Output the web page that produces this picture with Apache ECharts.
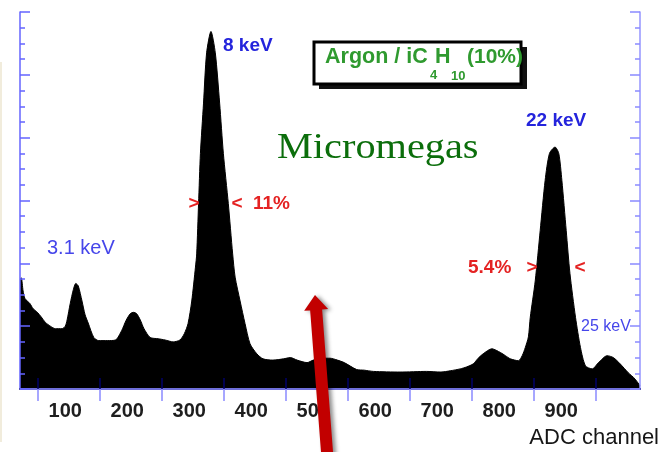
<!DOCTYPE html>
<html>
<head>
<meta charset="utf-8">
<script src="https://cdn.jsdelivr.net/npm/echarts@6/dist/echarts.min.js"></script>
<style>
  html, body { margin: 0; padding: 0; background: #ffffff; }
  #chart { width: 662px; height: 452px; }
</style>
</head>
<body>
<div id="chart"></div>
<script>
// Pulse-height spectrum (Micromegas, Argon / iC4H10 10%)
const channels = [
  27, 29, 32, 35, 43, 48, 55, 61, 68, 76, 84, 95, 100, 103, 108, 113, 117, 121, 127, 132,
  137, 146, 154, 168, 181, 191, 198, 205, 210, 215, 221, 227, 237, 250, 261, 274, 285, 292,
  298, 304, 310, 312, 315, 318, 323, 328, 335, 342, 349, 355, 363, 370, 374, 382, 390, 398,
  409, 419, 435, 452, 463, 474, 490, 500, 514, 527, 539, 550, 570, 582, 597, 640, 683, 706,
  721, 737, 747, 758, 766, 774, 788, 802, 810, 818, 831, 837, 842, 847, 850, 858, 866, 874,
  881, 890, 896, 901, 908, 914, 923, 931, 939, 950, 960, 974, 984, 995, 1008, 1019, 1027
];
const counts = [
  175, 177, 156, 144, 136, 128, 122, 115, 106, 100, 96, 96, 100, 110, 136, 158, 168, 164, 140, 118,
  105, 82, 77, 77, 78, 93, 109, 120, 122, 120, 110, 96, 82, 80, 78, 75, 78, 88,
  104, 140, 194, 215, 295, 375, 455, 535, 569, 535, 455, 375, 295, 215, 178, 140, 104, 72,
  56, 48, 46, 48, 50, 46, 42, 46, 49, 49, 46, 42, 31, 30, 28, 27, 28, 27,
  29, 32, 35, 40, 49, 56, 64, 58, 53, 48, 45, 53, 66, 83, 114, 172, 252, 332,
  375, 385, 375, 332, 252, 184, 114, 66, 37, 32, 42, 53, 50, 40, 26, 16, 5
];
const xLabels = [100, 200, 300, 400, 500, 600, 700, 800, 900];
const xTicks = [55, 155, 255, 355, 455, 555, 655, 755, 855, 955];

const chart = echarts.init(document.getElementById('chart'), null, { renderer: 'canvas' });

// red pointer arrow, built from tip and tail points
function arrowPoints(tip, tail, headLen, headHalf, shaftHalf) {
  const dx = tip[0] - tail[0], dy = tip[1] - tail[1];
  const len = Math.hypot(dx, dy);
  const ux = dx / len, uy = dy / len;
  const nx = -uy, ny = ux;
  const bx = tip[0] - headLen * ux, by = tip[1] - headLen * uy;
  return [
    tip,
    [bx + headHalf * nx, by + headHalf * ny],
    [bx + shaftHalf * nx, by + shaftHalf * ny],
    [tail[0] + shaftHalf * nx, tail[1] + shaftHalf * ny],
    [tail[0] - shaftHalf * nx, tail[1] - shaftHalf * ny],
    [bx - shaftHalf * nx, by - shaftHalf * ny],
    [bx - headHalf * nx, by - headHalf * ny]
  ];
}

const blue = '#2424dc';
const lightBlue = '#4646ea';
const red = '#e42222';
const green = '#2f9a2f';

function txt(x, y, text, size, color, weight, align) {
  return {
    type: 'text', x: x, y: y, z: 20,
    style: {
      text: text, fill: color, fontSize: size,
      fontFamily: 'Liberation Sans, Arial, sans-serif',
      fontWeight: weight || 'normal',
      align: align || 'left', verticalAlign: 'middle'
    }
  };
}

const option = {
  backgroundColor: '#ffffff',
  animation: false,
  grid: { left: 20, top: 12, right: 22, bottom: 63 },
  xAxis: [
    {
      type: 'value', position: 'bottom', min: 27, max: 1027, z: 5,
      axisLine: { show: true, lineStyle: { color: '#00006a', width: 2 } },
      axisTick: { show: true, inside: true, length: 11, customValues: xTicks,
                  lineStyle: { color: '#00006a', width: 1.5 } },
      axisLabel: { show: true, customValues: xLabels, margin: 12,
                   color: '#1e1e1e', fontSize: 20, fontWeight: 'bold',
                   fontFamily: 'Liberation Sans, Arial, sans-serif' },
      splitLine: { show: false }
    },
    {
      type: 'value', position: 'top', min: 27, max: 1027, z: 5,
      axisLine: { show: true, lineStyle: { color: '#9494ff', width: 1.5 } },
      axisTick: { show: true, inside: true, length: 12, customValues: xTicks,
                  lineStyle: { color: '#8a8aff', width: 1.5 } },
      axisLabel: { show: false },
      splitLine: { show: false }
    }
  ],
  yAxis: [
    {
      type: 'value', position: 'left', min: 0, max: 600, interval: 100, z: 5,
      axisLine: { show: true, lineStyle: { color: '#6464ff', width: 1.5 } },
      axisTick: { show: true, inside: true, length: 10, lineStyle: { color: '#6464ff', width: 1.5 } },
      minorTick: { show: true, splitNumber: 4, length: 5, lineStyle: { color: '#6464ff', width: 1.5 } },
      axisLabel: { show: false },
      splitLine: { show: false }, minorSplitLine: { show: false }
    },
    {
      type: 'value', position: 'right', min: 0, max: 600, interval: 100, z: 5,
      axisLine: { show: true, lineStyle: { color: '#9494ff', width: 1.5 } },
      axisTick: { show: true, inside: true, length: 10, lineStyle: { color: '#8a8aff', width: 1.5 } },
      minorTick: { show: true, splitNumber: 4, length: 5, lineStyle: { color: '#8a8aff', width: 1.5 } },
      axisLabel: { show: false },
      splitLine: { show: false }, minorSplitLine: { show: false }
    }
  ],
  series: [
    {
      type: 'line',
      xAxisIndex: 0, yAxisIndex: 0,
      data: channels.map((c, i) => [c, counts[i]]),
      smooth: 0.25,
      symbol: 'none',
      lineStyle: { color: '#000000', width: 1 },
      areaStyle: { color: '#000000', opacity: 1 },
      z: 2
    }
  ],
  graphic: [
    // thin page edge strip
    { type: 'rect', shape: { x: 0, y: 62, width: 2, height: 380 }, style: { fill: '#f1ecdc' }, z: 1 },

    // gas mixture box with drop shadow
    { type: 'rect', shape: { x: 319, y: 47, width: 208, height: 42 }, style: { fill: '#111111' }, z: 15 },
    { type: 'rect', shape: { x: 314, y: 42, width: 207, height: 42 },
      style: { fill: '#ffffff', stroke: '#000000', lineWidth: 3 }, z: 16 },
    txt(325, 57, 'Argon / iC', 21.5, green, 'bold'),
    txt(430, 75, '4', 13, green, 'bold'),
    txt(435, 57, 'H', 21.5, green, 'bold'),
    txt(451, 76, '10', 13, green, 'bold'),
    txt(467, 57, '(10%)', 21, green, 'bold'),

    // detector name
    {
      type: 'text', x: 277, y: 149, z: 20, scaleX: 1.12,
      style: { text: 'Micromegas', fill: '#0b6e0b', fontSize: 36,
               fontFamily: 'Liberation Serif, Times New Roman, serif',
               align: 'left', verticalAlign: 'middle' }
    },

    // peak annotations
    txt(223, 46, '8 keV', 19, blue, 'bold'),
    txt(526, 121, '22 keV', 19, blue, 'bold'),
    txt(47, 248, '3.1 keV', 20, lightBlue, 'normal'),
    txt(581, 327, '25 keV', 16, lightBlue, 'normal'),

    // FWHM markers
    txt(194, 204, '>', 19, red, 'bold', 'center'),
    txt(237, 204, '<', 19, red, 'bold', 'center'),
    txt(253, 204, '11%', 19, red, 'bold'),
    txt(468, 268, '5.4%', 19, red, 'bold'),
    txt(532, 268, '>', 19, red, 'bold', 'center'),
    txt(580, 268, '<', 19, red, 'bold', 'center'),

    // axis title
    txt(659, 438, 'ADC channel', 22, '#161616', 'normal', 'right'),

    // pointer arrow
    {
      type: 'polygon', z: 30,
      shape: { points: arrowPoints([315, 295], [328, 465], 15, 12, 6) },
      style: { fill: '#c20000', shadowColor: 'rgba(0,0,0,0.45)', shadowBlur: 4, shadowOffsetX: 3, shadowOffsetY: 1 }
    }
  ]
};

chart.setOption(option);
</script>
</body>
</html>
